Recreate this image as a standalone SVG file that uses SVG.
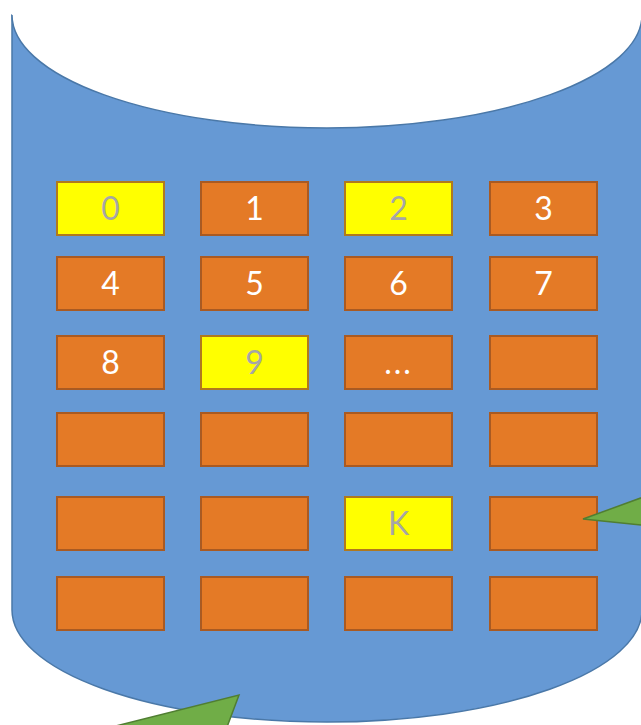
<svg xmlns="http://www.w3.org/2000/svg" width="641" height="725" viewBox="0 0 641 725">
<style>
.cyl{fill:#6699D4;stroke:#4A78A8;stroke-width:1.5}
.top{fill:#ffffff;stroke:none}
.rim{fill:none;stroke:#4A78A8;stroke-width:1.5}
.o{fill:#E47A26;stroke:#A95A22;stroke-width:2}
.y{fill:#FFFF00;stroke:#B0791E;stroke-width:2}
.t{font-family:Lato,"Open Sans",sans-serif;font-size:32px;text-anchor:middle;fill:#ffffff}
.ty{font-family:Lato,"Open Sans",sans-serif;font-size:32px;text-anchor:middle;fill:#A6A6A6}
.arr{fill:#70AD47;stroke:#507E32;stroke-width:1.5}
</style>
<rect width="641" height="725" fill="#ffffff"/>
<g id="cylinder">
<path class="cyl" d="M12,15 L12,610 A315,112 0 0 0 642,610 L642,15 Z"/>
<ellipse class="top" cx="327" cy="15" rx="315" ry="113"/>
<path class="rim" d="M12,15 A315,113 0 0 0 642,15"/>
</g>
<g id="cells">
<g id="c0"><rect class="y" x="57" y="182" width="107" height="53"/><text class="ty" x="110.5" y="220">0</text></g>
<g id="c1"><rect class="o" x="201" y="182" width="107" height="53"/><text class="t" x="254.5" y="220">1</text></g>
<g id="c2"><rect class="y" x="345" y="182" width="107" height="53"/><text class="ty" x="398.5" y="220">2</text></g>
<g id="c3"><rect class="o" x="490" y="182" width="107" height="53"/><text class="t" x="543.5" y="220">3</text></g>
<g id="c4"><rect class="o" x="57" y="257" width="107" height="53"/><text class="t" x="110.5" y="295">4</text></g>
<g id="c5"><rect class="o" x="201" y="257" width="107" height="53"/><text class="t" x="254.5" y="295">5</text></g>
<g id="c6"><rect class="o" x="345" y="257" width="107" height="53"/><text class="t" x="398.5" y="295">6</text></g>
<g id="c7"><rect class="o" x="490" y="257" width="107" height="53"/><text class="t" x="543.5" y="295">7</text></g>
<g id="c8"><rect class="o" x="57" y="336" width="107" height="53"/><text class="t" x="110.5" y="374">8</text></g>
<g id="c9"><rect class="y" x="201" y="336" width="107" height="53"/><text class="ty" x="254.5" y="374">9</text></g>
<g id="c10"><rect class="o" x="345" y="336" width="107" height="53"/><text class="t" x="398.5" y="374" letter-spacing="2">...</text></g>
<g id="c11"><rect class="o" x="490" y="336" width="107" height="53"/></g>
<g id="c12"><rect class="o" x="57" y="413" width="107" height="53"/></g>
<g id="c13"><rect class="o" x="201" y="413" width="107" height="53"/></g>
<g id="c14"><rect class="o" x="345" y="413" width="107" height="53"/></g>
<g id="c15"><rect class="o" x="490" y="413" width="107" height="53"/></g>
<g id="c16"><rect class="o" x="57" y="497" width="107" height="53"/></g>
<g id="c17"><rect class="o" x="201" y="497" width="107" height="53"/></g>
<g id="cK"><rect class="y" x="345" y="497" width="107" height="53"/><text class="ty" x="398.5" y="535">K</text></g>
<g id="c19"><rect class="o" x="490" y="497" width="107" height="53"/></g>
<g id="c20"><rect class="o" x="57" y="577" width="107" height="53"/></g>
<g id="c21"><rect class="o" x="201" y="577" width="107" height="53"/></g>
<g id="c22"><rect class="o" x="345" y="577" width="107" height="53"/></g>
<g id="c23"><rect class="o" x="490" y="577" width="107" height="53"/></g>
</g>
<g id="connectors">
<polygon class="arr" points="239,695 224,735 80,735"/>
<polygon class="arr" points="583,519 660,491 660,527"/>
</g>
</svg>
